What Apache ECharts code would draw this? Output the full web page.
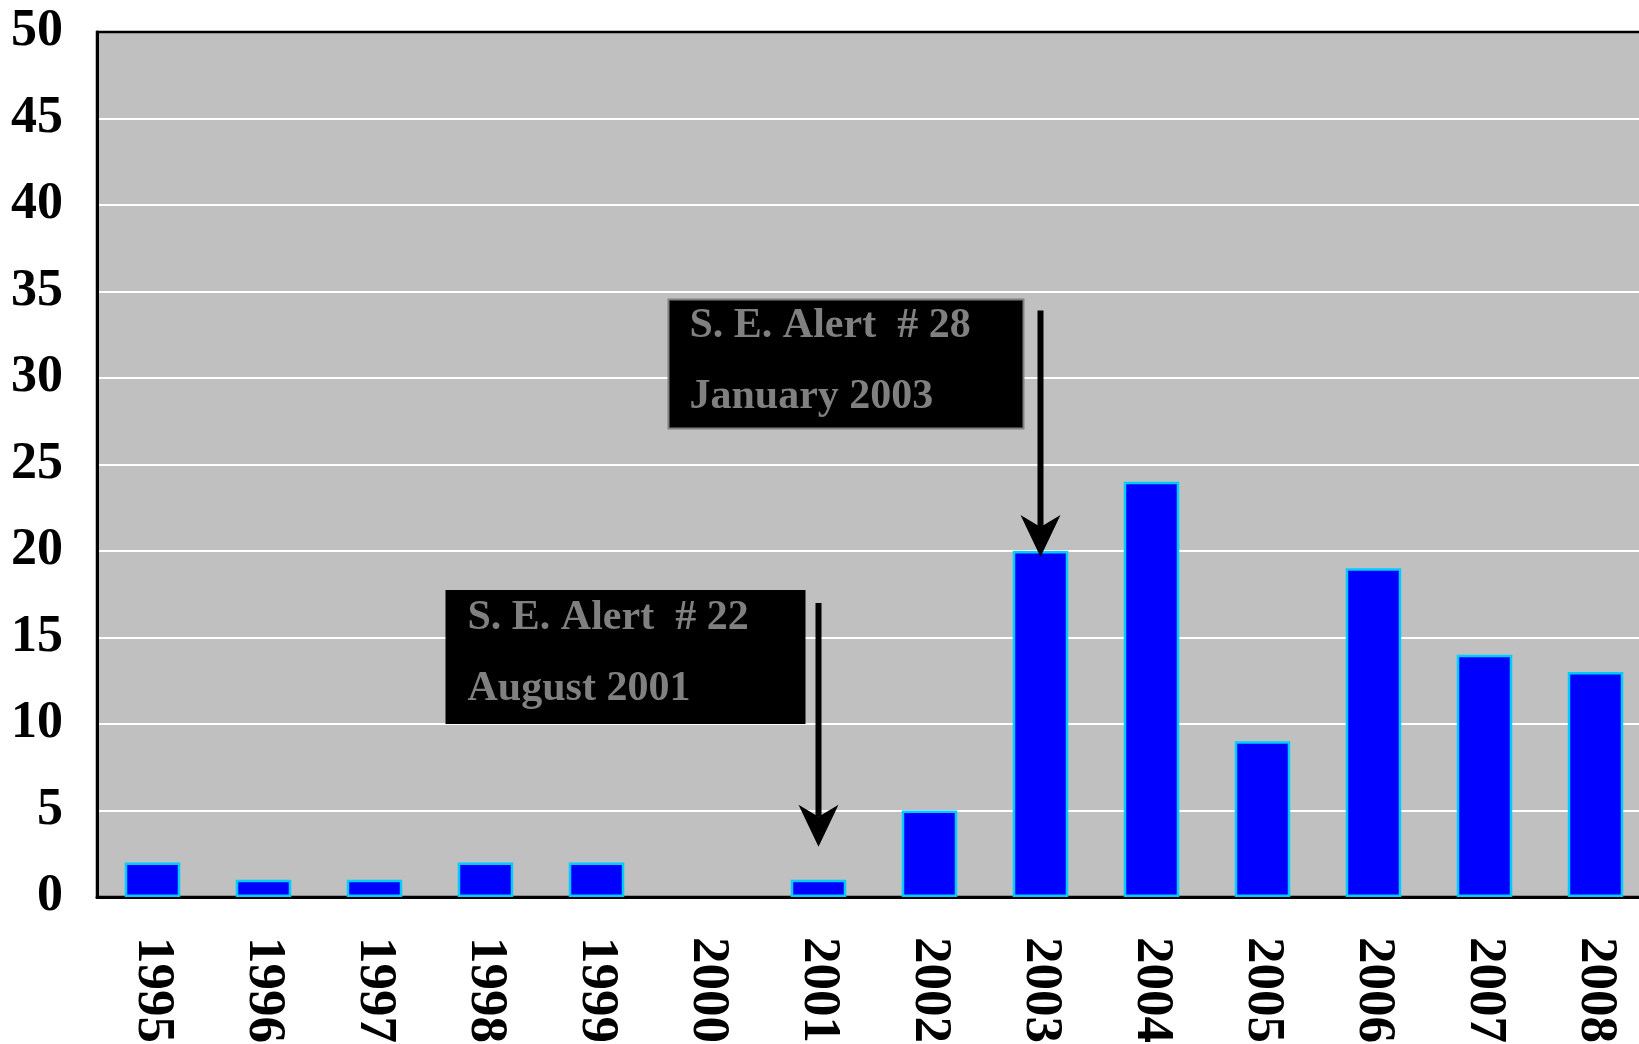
<!DOCTYPE html>
<html>
<head>
<meta charset="utf-8">
<script src="https://cdn.jsdelivr.net/npm/echarts@6/dist/echarts.min.js"></script>
<style>
html,body{margin:0;padding:0;background:#fff;}
#c{width:1639px;height:1044px;}
</style>
</head>
<body>
<div id="c"></div>
<script>
// ---- data ----
const years = ['1995','1996','1997','1998','1999','2000','2001','2002','2003','2004','2005','2006','2007','2008'];
const counts = [2, 1, 1, 2, 2, 0, 1, 5, 20, 24, 9, 19, 14, 13];
const yMin = 0, yMax = 50, yStep = 5;
const alertTitles = ['S. E. Alert  # 22', 'S. E. Alert  # 28'];
const alertDates = ['August 2001', 'January 2003'];
const alertYears = ['2001', '2003'];
const arrowFromValues = [17.0, 33.9];
const arrowToValues = [2.9, 19.65];

const FONT = '"Liberation Serif", "Times New Roman", serif';
const chart = echarts.init(document.getElementById('c'), null, {renderer: 'canvas'});

chart.setOption({
  animation: false,
  backgroundColor: '#ffffff',
  grid: {
    left: 97, top: 32, width: 1554, bottom: 147,
    outerBoundsMode: 'none', containLabel: false,
    show: true, backgroundColor: '#c0c0c0', borderColor: '#000', borderWidth: 2.5
  },
  xAxis: {
    type: 'category',
    data: years,
    axisLine: {show: true, lineStyle: {color: '#000', width: 3}},
    axisTick: {show: false},
    axisLabel: {
      rotate: -90, margin: 40, color: '#000', fontFamily: FONT,
      fontWeight: 'bold', fontSize: 53, interval: 0
    },
    splitLine: {show: false}
  },
  yAxis: {
    type: 'value',
    min: yMin, max: yMax, interval: yStep,
    axisLine: {show: true, lineStyle: {color: '#000', width: 3}},
    axisTick: {show: false},
    axisLabel: {margin: 34, color: '#000', fontFamily: FONT, fontWeight: 'bold', fontSize: 52},
    splitLine: {show: true, showMaxLine: false, showMinLine: false, lineStyle: {color: '#ffffff', width: 2}}
  },
  series: [{
    type: 'bar',
    data: counts.map(v => v === 0 ? {value: v, itemStyle: {borderWidth: 0, opacity: 0}} : v),
    barWidth: '50%',
    itemStyle: {color: '#0000ff', borderColor: '#00ccff', borderWidth: 2.5}
  }]
});

// ---- annotations, positioned through the chart's own scales ----
const graphics = [];
const boxW = [358, 355], boxH = [132, 129];
const boxDx = [14, 17], boxDy = [12, 11];
const boxStroke = ['#000000', '#808080'];
for (let i = 0; i < alertYears.length; i++) {
  const p0 = chart.convertToPixel({seriesIndex: 0}, [alertYears[i], arrowFromValues[i]]);
  const p1 = chart.convertToPixel({seriesIndex: 0}, [alertYears[i], arrowToValues[i]]);
  const x = p0[0], yTop = p0[1], yTip = p1[1];
  const headLen = 42, headHalf = 20;
  graphics.push({
    type: 'line', z: 100,
    shape: {x1: x, y1: yTop, x2: x, y2: yTip - 30},
    style: {stroke: '#000', lineWidth: 6}
  });
  graphics.push({
    type: 'polygon', z: 100,
    shape: {points: [[x, yTip], [x + headHalf, yTip - headLen], [x, yTip - 30], [x - headHalf, yTip - headLen]]},
    style: {fill: '#000'}
  });
  const bx = x - boxDx[i] - boxW[i], by = yTop - boxDy[i];
  graphics.push({
    type: 'rect', z: 100,
    shape: {x: bx, y: by, width: boxW[i], height: boxH[i]},
    style: {fill: '#000', stroke: boxStroke[i], lineWidth: 2}
  });
  graphics.push({
    type: 'text', z: 101,
    x: bx + 21, y: by + 40 - 13,
    style: {text: alertTitles[i], fill: '#808080', font: 'bold 42px ' + FONT, verticalAlign: 'middle', align: 'left'}
  });
  graphics.push({
    type: 'text', z: 101,
    x: bx + 21, y: by + 111 - 13,
    style: {text: alertDates[i], fill: '#808080', font: 'bold 42px ' + FONT, verticalAlign: 'middle', align: 'left'}
  });
}
chart.setOption({graphic: graphics});
</script>
</body>
</html>
